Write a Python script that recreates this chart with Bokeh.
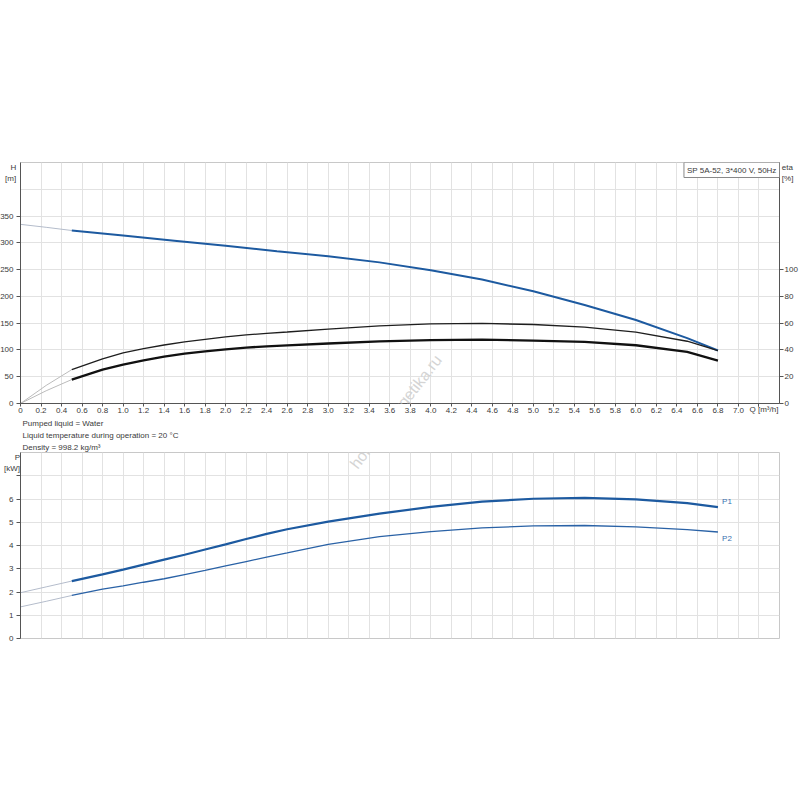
from bokeh.plotting import figure
from bokeh.models import Range1d, LinearAxis, FixedTicker, Label, PrintfTickFormatter, Title
from bokeh.layouts import column
from bokeh.embed import file_html
from bokeh.resources import INLINE

# head curve, Q [m3/h] -> H [m]
q_head = [0.5, 1.0, 1.5, 2.0, 2.5, 3.0, 3.5, 4.0, 4.5, 5.0, 5.5, 6.0, 6.5, 6.8]
head = [323, 313.5, 304, 294.5, 284.5, 275, 263.5, 249, 231.5, 209.5, 184, 156, 122, 99]

# efficiency and power curves, Q [m3/h]
q_fine = [0.5, 0.8, 1.0, 1.2, 1.4, 1.6, 1.8, 2.0, 2.2, 2.4, 2.6, 3.0, 3.5, 4.0, 4.5, 5.0, 5.5, 6.0, 6.5, 6.8]
eta_pump = [25.3, 33.3, 37.8, 41, 43.7, 46, 47.9, 49.7, 51.2, 52.4, 53.4, 55.6, 58, 59.4, 59.8, 59, 57, 53.3, 46.5, 39.5]
eta_total = [17.9, 25.3, 29, 32.2, 35, 37.2, 39, 40.4, 41.7, 42.7, 43.4, 44.8, 46.4, 47.4, 47.7, 46.9, 46, 43.5, 38.5, 32]
p1 = [2.47, 2.76, 2.96, 3.18, 3.39, 3.6, 3.83, 4.05, 4.28, 4.5, 4.7, 5.03, 5.37, 5.66, 5.89, 6.01, 6.05, 5.98, 5.82, 5.65]
p2 = [1.85, 2.12, 2.26, 2.42, 2.57, 2.75, 2.93, 3.12, 3.31, 3.5, 3.68, 4.05, 4.38, 4.6, 4.76, 4.84, 4.86, 4.8, 4.68, 4.58]

# thin extensions from Q=0 up to the start of the curves
q_ext = [0, 0.25, 0.5]
head_ext = [334.5, 329, 323]
eta_pump_ext = [0, 13.5, 25.3]
eta_total_ext = [0, 9.5, 17.9]
p1_ext = [1.97, 2.22, 2.47]
p2_ext = [1.36, 1.6, 1.85]

q_ticks = [round(i * 0.2, 1) for i in range(37)]
q_grid = [round(i * 0.2, 1) for i in range(38)]
h_ticks = [0, 50, 100, 150, 200, 250, 300, 350]
h_grid = [0, 50, 100, 150, 200, 250, 300, 350, 400, 450]
eta_ticks = [0, 20, 40, 60, 80, 100]
p_ticks = [0, 1, 2, 3, 4, 5, 6, 7]
p_grid = [0, 1, 2, 3, 4, 5, 6, 7, 8]

notes = ["Pumped liquid = Water",
         "Liquid temperature during operation = 20 \u00b0C",
         "Density = 998.2 kg/m\u00b3"]

FONT = "Liberation Sans"
BLUE = "#1d5aa0"
EXT = "#b4bccb"
GRID = "#e2e2e2"
AX = "#555555"
TXT = "#3a3a3a"
QMAX = 7.40
NB = "\u00a0"


def style_axis(ax, label=None, standoff=0, tick=4, label_gap=3):
    ax.axis_line_color = AX
    ax.major_tick_line_color = AX
    ax.major_tick_out = tick
    ax.major_tick_in = 0
    ax.minor_tick_line_color = None
    ax.major_label_text_font = FONT
    ax.major_label_text_font_size = "8px"
    ax.major_label_text_color = TXT
    ax.major_label_standoff = label_gap
    if label:
        ax.axis_label = label
        ax.axis_label_text_font = FONT
        ax.axis_label_text_font_size = "8px"
        ax.axis_label_text_font_style = "normal"
        ax.axis_label_text_color = TXT
        ax.axis_label_align = "end"
        ax.axis_label_standoff = standoff


# ---------------- top chart: H and eta ----------------
top = figure(frame_width=759, frame_height=241, min_border_left=20, min_border_right=21,
             min_border_top=162, min_border_bottom=49,
             x_range=Range1d(0, QMAX), y_range=Range1d(0, 450),
             output_backend="svg", toolbar_location=None)
top.extra_y_ranges = {"eta": Range1d(0, 180)}
top.outline_line_color = "#c8c8c8"

top.xaxis.ticker = FixedTicker(ticks=q_ticks + [7.2])
top.xaxis.formatter = PrintfTickFormatter(format="%.1f")
top.xaxis.major_label_overrides = {0: "0", 7.2: ""}
top.yaxis.ticker = FixedTicker(ticks=h_ticks)
top.xgrid.ticker = FixedTicker(ticks=q_grid)
top.ygrid.ticker = FixedTicker(ticks=h_grid)
top.grid.grid_line_color = GRID

eta_axis = LinearAxis(y_range_name="eta", ticker=FixedTicker(ticks=eta_ticks))
top.add_layout(eta_axis, "right")
style_axis(top.xaxis[0], "Q [m\u00b3/h]" + NB * 14, -11, tick=3, label_gap=1)
style_axis(top.yaxis[0], NB + "\n" + NB + "\nH\n[m]", -19)
style_axis(eta_axis, NB + "\n" + NB + "\neta\n[%]", -19, label_gap=1)
top.yaxis.axis_label_orientation = "horizontal"
eta_axis.axis_label_orientation = "horizontal"

top.line(q_ext, head_ext, line_color=EXT, line_width=1)
top.line(q_head, head, line_color=BLUE, line_width=2)
top.line(q_ext, eta_pump_ext, y_range_name="eta", line_color="#bbbbbb", line_width=1)
top.line(q_ext, eta_total_ext, y_range_name="eta", line_color="#bbbbbb", line_width=1)
top.line(q_fine, eta_pump, y_range_name="eta", line_color="#1e1e1e", line_width=1.3)
top.line(q_fine, eta_total, y_range_name="eta", line_color="#111111", line_width=2.3)

top.add_layout(Label(x=QMAX, y=450, text="SP 5A-52, 3*400 V, 50Hz", text_font=FONT,
                     text_font_size="8px", text_color=TXT, text_align="right",
                     text_baseline="top", x_offset=0, y_offset=0, padding=3,
                     border_line_color="#888888", background_fill_color="white"))
for t in notes:
    top.add_layout(Title(text=t, align="left", offset=2, standoff=1, text_font=FONT,
                         text_font_size="8px", text_font_style="normal", text_color=TXT), "below")
top.add_layout(Label(x=3.66, y=-15, text="home-energetika.ru", text_font=FONT,
                     text_font_size="16px", text_color="#d4d4d4", angle=0.91,
                     text_align="center", text_baseline="middle"))

# ---------------- bottom chart: P1, P2 ----------------
bot = figure(frame_width=759, frame_height=186, min_border_left=20, min_border_right=21,
             min_border_top=0, min_border_bottom=10,
             x_range=Range1d(0, QMAX), y_range=Range1d(0, 8),
             output_backend="svg", toolbar_location=None)
bot.outline_line_color = "#c8c8c8"
bot.xaxis.visible = False
bot.yaxis.ticker = FixedTicker(ticks=p_ticks)
bot.yaxis.major_label_overrides = {7: ""}
style_axis(bot.yaxis[0], NB + "\n" + NB + "\nP\n[kW]", -14)
bot.yaxis.axis_label_orientation = "horizontal"
bot.xgrid.ticker = FixedTicker(ticks=q_grid)
bot.ygrid.ticker = FixedTicker(ticks=p_grid)
bot.grid.grid_line_color = GRID

bot.line(q_ext, p1_ext, line_color=EXT, line_width=1)
bot.line(q_ext, p2_ext, line_color=EXT, line_width=1)
bot.line(q_fine, p1, line_color=BLUE, line_width=2.2)
bot.line(q_fine, p2, line_color="#2a62a6", line_width=1.3)

for name, y in [("P1", 5.88), ("P2", 4.3)]:
    bot.add_layout(Label(x=6.84, y=y, text=name, text_font=FONT, text_font_size="8px",
                         text_color="#3a6fb0", text_baseline="middle"))
bot.add_layout(Label(x=3.66, y=9.75, text="home-energetika.ru", text_font=FONT,
                     text_font_size="16px", text_color="#d4d4d4", angle=0.91,
                     text_align="center", text_baseline="middle"))

layout = column(top, bot)
open("out.html", "w").write(file_html(layout, INLINE))
